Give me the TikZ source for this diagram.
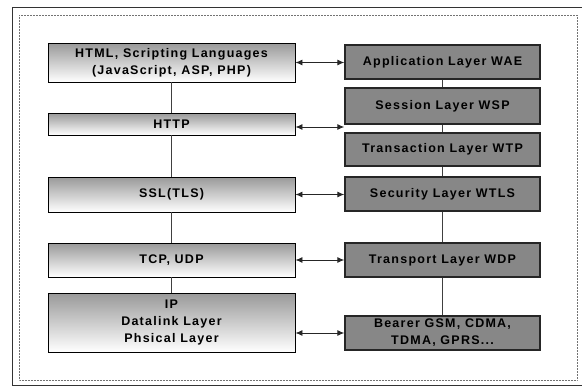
\documentclass[tikz,border=0pt]{standalone}
\usepackage{fontspec}
\setmainfont{Liberation Sans}[LetterSpace=10]
\usetikzlibrary{arrows.meta,calc}
\begin{document}
\begin{tikzpicture}[x=1pt,y=-1pt,
  every node/.style={font=\fontsize{12.5}{17}\selectfont\bfseries},
  lbox/.style={draw=black,line width=0.9pt,top color=black!40,bottom color=white,
    middle color=black!20,shading angle=0,minimum width=247pt,inner sep=0pt,align=center},
  rbox/.style={draw=black!85,line width=1.4pt,fill=black!47,minimum width=195pt,
    inner sep=0pt,align=center},
  link/.style={draw=black!75,line width=0.6pt},
  dbl/.style={draw=black!85,line width=0.9pt,{Latex[length=7pt,width=6pt]}-{Latex[length=7pt,width=6pt]}}]
\useasboundingbox (0,0) rectangle (582,388);
% frames
\draw[line width=1pt,black!80] (582,7) -- (12,7) -- (12,385) -- (582,385);
\draw[line width=0.5pt,black!55,densely dotted] (19,15) rectangle (577,380);
% left column
\node[lbox,minimum height=39pt] (html) at (171.5,62.5) {HTML, Scripting Languages\\(JavaScript, ASP, PHP)};
\node[lbox,minimum height=22pt] (http) at (171.5,124) {HTTP};
\node[lbox,minimum height=35pt] (ssl) at (171.5,194.5) {SSL(TLS)};
\node[lbox,minimum height=34pt] (tcp) at (171.5,260) {TCP, UDP};
\node[lbox,minimum height=59pt] (ip) at (171.5,322.5) {IP\\Datalink Layer\\Phsical Layer};
% right column
\node[rbox,minimum height=34pt] (wae) at (442.5,62) {Application Layer WAE};
\node[rbox,minimum height=36pt] (wsp) at (442.5,106) {Session Layer WSP};
\node[rbox,minimum height=33pt] (wtp) at (442.5,149.5) {Transaction Layer WTP};
\node[rbox,minimum height=34pt] (wtls) at (442.5,194) {Security Layer WTLS};
\node[rbox,minimum height=34pt] (wdp) at (442.5,260) {Transport Layer WDP};
\node[rbox,minimum height=34pt] (bearer) at (442.5,333) {Bearer GSM, CDMA,\\TDMA, GPRS...};
% vertical links
\draw[link] (html) -- (http);
\draw[link] (http) -- (ssl);
\draw[link] (ssl) -- (tcp);
\draw[link] (tcp) -- (ip);
\draw[link] (wae) -- (wsp);
\draw[link] (wsp) -- (wtp);
\draw[link] (wtp) -- (wtls);
\draw[link] (wtls) -- (wdp);
\draw[link] (wdp) -- (bearer);
% horizontal arrows
\draw[dbl] (html.east) -- (html.east -| wae.west);
\draw[dbl] ($(http.east)+(0,3)$) coordinate (hA) -- (hA -| wtp.west);
\draw[dbl] (ssl.east) -- (ssl.east -| wtls.west);
\draw[dbl] (tcp.east) -- (tcp.east -| wdp.west);
\draw[dbl] (bearer.west -| ip.east) -- (bearer.west);
\end{tikzpicture}
\end{document}
